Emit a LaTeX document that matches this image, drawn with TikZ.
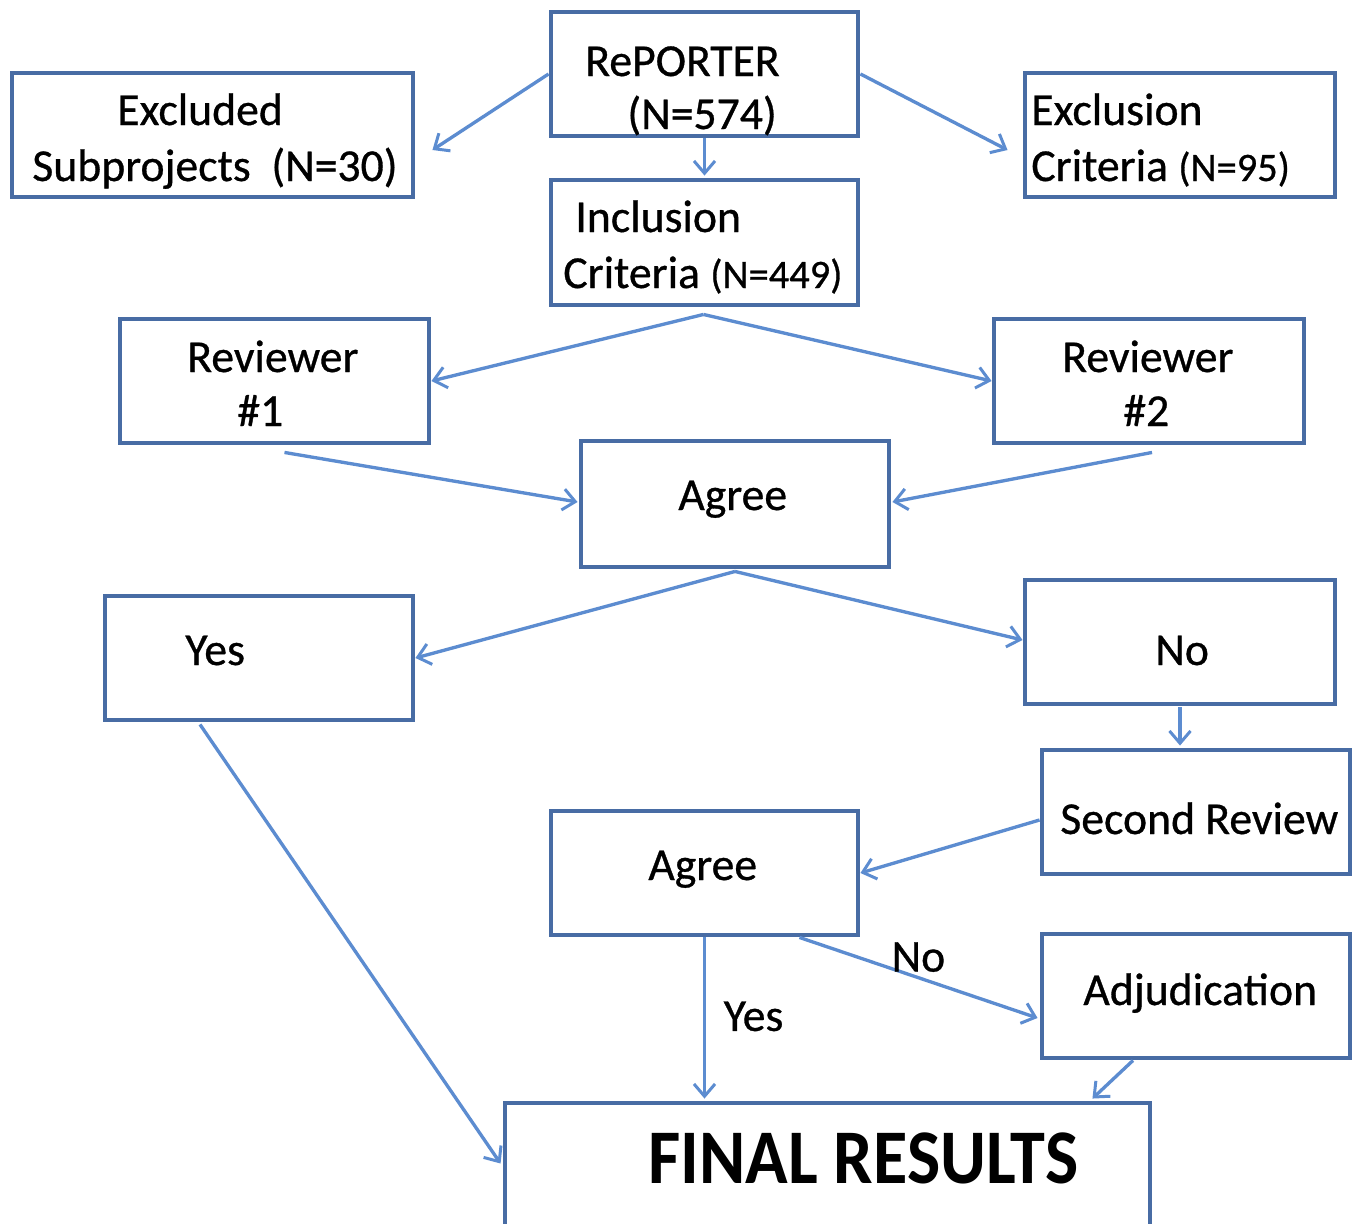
\documentclass[tikz,border=0pt]{standalone}
\usepackage{fontspec}
\setmainfont{Carlito}
\newfontfamily\heavy{Carlito}[FakeBold=0.7]
\usetikzlibrary{arrows.meta,fit,calc}
\definecolor{boxblue}{RGB}{72,108,164}
\definecolor{arrblue}{RGB}{92,140,208}
\tikzset{
  box/.style={draw=boxblue, line width=2.8pt, inner sep=0pt, fill=white},
  conn/.style={draw=arrblue, line width=1.9pt, -{Straight Barb[length=7pt,width=12pt,line width=1.7pt]}},
  txt/.style={anchor=base west, inner sep=0pt, font=\heavy\fontsize{26}{30}\selectfont},
  big/.style={anchor=base west, inner sep=0pt, font=\fontsize{40}{46}\selectfont\bfseries}
}
\begin{document}
\begin{tikzpicture}[x=0.02cm,y=-0.02cm]
\clip (0,0) rectangle (1360,1224);
\fill[white] (0,0) rectangle (1360,1224);

% boxes
\node[box, fit={(551,12) (858,136)}] (rep) {};
\node[box, fit={(12,73) (413,197)}] (excl) {};
\node[box, fit={(1025,73) (1335,197)}] (excr) {};
\node[box, fit={(551,180) (858,305)}] (inc) {};
\node[box, fit={(120,319) (429,443)}] (rev1) {};
\node[box, fit={(994,319) (1304,443)}] (rev2) {};
\node[box, fit={(581,441) (889,567)}] (agr1) {};
\node[box, fit={(105,596) (413,720)}] (yes) {};
\node[box, fit={(1025,580) (1335,704)}] (no) {};
\node[box, fit={(1042,750) (1350,874)}] (sec) {};
\node[box, fit={(551,811) (858,935)}] (agr2) {};
\node[box, fit={(1042,934) (1350,1058)}] (adj) {};
\node[box, fit={(505,1103) (1150,1260)}] (fin) {};

% texts
\node[txt] (t1) at (585,76) {RePORTER};
\node[txt] (t2) at (627,129) {(N=574)};
\node[txt] (t3) at (117,125) {Excluded};
\node[txt] (t4) at (32,181) {Subprojects\ \ (N=30)};
\node[txt] (t5) at (1031,125) {Exclusion};
\node[txt] (t6) at (1031,181) {Criteria {\fontsize{23}{28}\selectfont(N=95)}};
\node[txt] (t7) at (575,232) {Inclusion};
\node[txt] (t8) at (563,288) {Criteria {\fontsize{23}{28}\selectfont(N=449)}};
\node[txt] (t9) at (187,372) {Reviewer};
\node[txt] (t10) at (237,426) {\#1};
\node[txt] (t11) at (1062,372) {Reviewer};
\node[txt] (t12) at (1123,426) {\#2};
\node[txt] (t13) at (678,510) {Agree};
\node[txt] (t14) at (185,665) {Yes};
\node[txt] (t15) at (1155,665) {No};
\node[txt] (t16) at (1060,834) {Second Review};
\node[txt] (t17) at (648,880) {Agree};
\node[txt] (t18) at (1083,1005) {Adjudication};
\node[big] (t19) at (648,1183) {\scalebox{1}[1.1]{FINAL RESULTS}};

% connectors
\draw[conn] (rep.west) -- ([shift={(17,15)}]excl.east);
\draw[conn] (rep.east) -- ([shift={(-15,15)}]excr.west);
\draw[conn] (rep.south) -- ([shift={(0,-2)}]inc.north);
\draw[conn] ([shift={(-1,7)}]inc.south) -- (rev1.east);
\draw[conn] ([shift={(-1,7)}]inc.south) -- (rev2.west);
\draw[conn] ([shift={(10,7)}]rev1.south) -- ([shift={(-1,-2)}]agr1.west);
\draw[conn] ([shift={(3,7)}]rev2.south) -- ([shift={(1,-2)}]agr1.east);
\draw[conn] ([shift={(0,2)}]agr1.south) -- (yes.east);
\draw[conn] ([shift={(0,2)}]agr1.south) -- ([shift={(0,-2)}]no.west);
\draw[conn] ([shift={(0,1)}]no.south) -- ([shift={(0,-2)}]no.south |- sec.north);
\draw[conn] ([shift={(0,8)}]sec.west) -- (agr2.east);
\draw[conn] (agr2.south) -- node[txt, anchor=base west, pos=0.58, xshift=10pt] (ly) {Yes} ([shift={(0,-2)}]agr2.south |- fin.north);
\draw[conn] ([shift={(95,0)}]agr2.south) -- node[txt, anchor=base west, pos=0.38, yshift=-2pt] (ln) {No} ([shift={(-2,22)}]adj.west);
\draw[conn] ([shift={(-63,0)}]adj.south) -- ([shift={(-60,-2)}]fin.north east);
\draw[conn] ([shift={(-59,2)}]yes.south) -- ([shift={(-2,-18)}]fin.west);
\end{tikzpicture}
\end{document}
